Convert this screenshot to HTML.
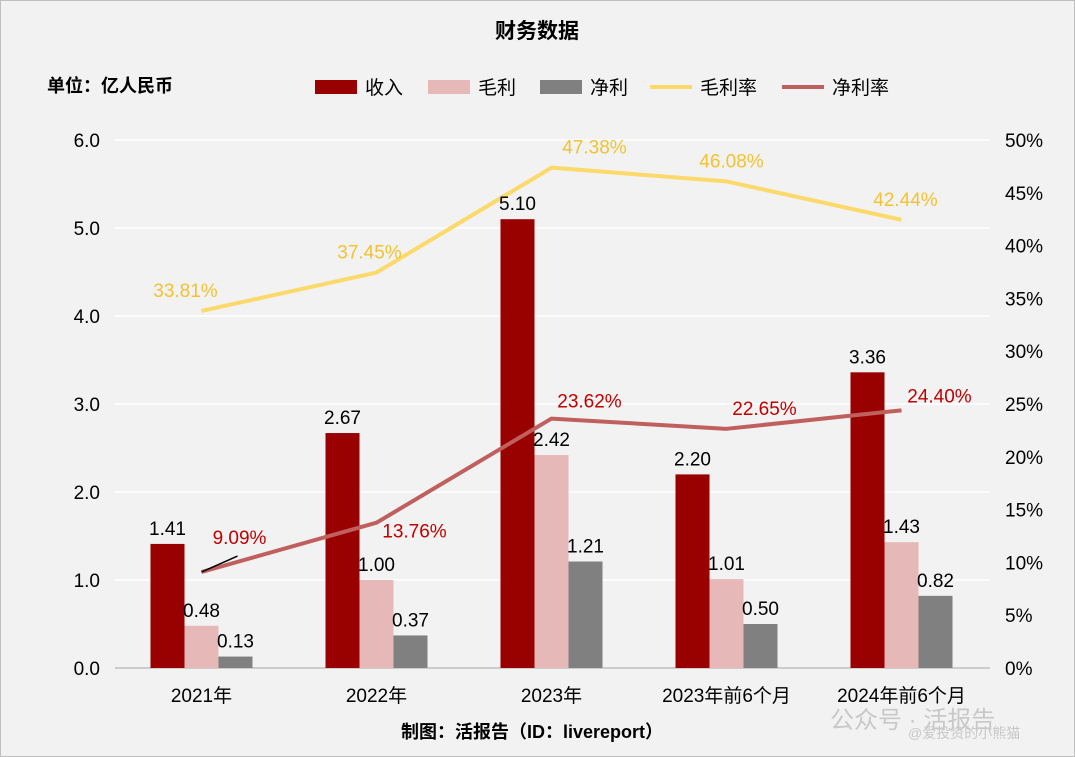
<!DOCTYPE html>
<html><head><meta charset="utf-8">
<style>
html,body{margin:0;padding:0;}
body{width:1075px;height:757px;background:#f2f2f2;font-family:"Liberation Sans","Noto Sans CJK SC",sans-serif;overflow:hidden;}
svg{display:block;}
</style></head>
<body>
<svg id="chart" width="1075" height="757" xmlns="http://www.w3.org/2000/svg">
<rect x="0.5" y="0.5" width="1074" height="756" fill="#f2f2f2" stroke="#bfbfbf"/>
<text x="537" y="38" text-anchor="middle" font-size="21" font-weight="bold" fill="#000" font-family="Liberation Sans,Noto Sans CJK SC,sans-serif">财务数据</text>
<text x="47" y="92" font-size="18" font-weight="bold" fill="#000" font-family="Liberation Sans,Noto Sans CJK SC,sans-serif">单位：亿人民币</text>
<g id="legend"></g>
<g id="grid"></g>
<g id="bars"></g>
<g id="lines"></g>
<g id="labels"></g>
<g id="axes"></g>
<text x="532" y="738" text-anchor="middle" font-size="18" font-weight="bold" fill="#000" font-family="Liberation Sans,Noto Sans CJK SC,sans-serif">制图：活报告（ID：livereport）</text>
<text x="830" y="728" font-size="24" fill="#c8c8c8" font-family="Liberation Sans,Noto Sans CJK SC,sans-serif">公众号 · 活报告</text>
<text x="908" y="738" font-size="14" fill="#c8c8c8" font-family="Liberation Sans,Noto Sans CJK SC,sans-serif">@爱投资的小熊猫</text>
</svg>
<script>
const categories=["2021年","2022年","2023年","2023年前6个月","2024年前6个月"];
const revenue=[1.41,2.67,5.10,2.20,3.36];
const grossProfit=[0.48,1.00,2.42,1.01,1.43];
const netProfit=[0.13,0.37,1.21,0.50,0.82];
const grossMargin=[33.81,37.45,47.38,46.08,42.44];
const netMargin=[9.09,13.76,23.62,22.65,24.40];
const leftTicks=[0,1,2,3,4,5,6];
const rightTicks=[0,5,10,15,20,25,30,35,40,45,50];

const NS="http://www.w3.org/2000/svg";
const FONT="Liberation Sans,Noto Sans CJK SC,sans-serif";
const x0=115,x1=990,yTop=140,yBot=668;
const band=(x1-x0)/categories.length;
const xC=i=>x0+band*(i+0.5)-1;
const yL=v=>yBot-(v/6)*(yBot-yTop);
const yR=v=>yBot-(v/50)*(yBot-yTop);
function mk(tag,attrs,parent){const e=document.createElementNS(NS,tag);for(const k in attrs)e.setAttribute(k,attrs[k]);parent.appendChild(e);return e;}
function txt(x,y,s,attrs,parent){const e=mk("text",Object.assign({x:x,y:y,"font-family":FONT},attrs),parent);e.textContent=s;return e;}
const grid=document.getElementById("grid"),bars=document.getElementById("bars"),lines=document.getElementById("lines"),labels=document.getElementById("labels"),axes=document.getElementById("axes"),legend=document.getElementById("legend");

leftTicks.forEach(t=>{
  const l=mk("line",{x1:x0,x2:x1,y1:yL(t),y2:yL(t),stroke:t===0?"#bfbfbf":"#ffffff","stroke-width":1.5},grid);
  
  
  const e=txt(100,yL(t)+7,t.toFixed(1),{"text-anchor":"end","font-size":19,fill:"#000"},axes);
  
  
});
rightTicks.forEach(t=>{
  const e=txt(1005,yR(t)+7,t+"%",{"font-size":19,fill:"#000"},axes);
  
  
});
categories.forEach((c,i)=>{
  const e=txt(xC(i),702,c,{"text-anchor":"middle","font-size":19,fill:"#000"},axes);
  
  
});
const bw=34;
const series=[[revenue,"#990000",-1.5,"revenue-bar"],[grossProfit,"#e6b9b8",-0.5,"gross-profit-bar"],[netProfit,"#808080",0.5,"net-profit-bar"]];
series.forEach(([arr,col,off,name])=>{
  arr.forEach((v,i)=>{
    const x=xC(i)+off*bw;
    const r=mk("rect",{x:x,y:yL(v),width:bw,height:yBot-yL(v),fill:col},bars);
    
    
    const t=txt(x+bw/2,yL(v)-9,v.toFixed(2),{"text-anchor":"middle","font-size":19,fill:"#000"},labels);
    
    
  });
});
function drawLine(arr,col,name){
  const p=mk("polyline",{points:arr.map((v,i)=>xC(i)+","+yR(v)).join(" "),fill:"none",stroke:col,"stroke-width":4,"stroke-linejoin":"round"},lines);
  
  
}
drawLine(grossMargin,"#fbd96a","gross-margin-line");
drawLine(netMargin,"#c0605e","net-margin-line");
const gmDx=[-16,-7,43,5,4];
grossMargin.forEach((v,i)=>{
  const t=txt(xC(i)+gmDx[i],yR(v)-14,v.toFixed(2)+"%",{"text-anchor":"middle","font-size":19,fill:"#f2c230"},labels);
  
  
});
const nmDy=[-28,15,-11,-14,-8];
netMargin.forEach((v,i)=>{
  const t=txt(xC(i)+38,yR(v)+nmDy[i],v.toFixed(2)+"%",{"text-anchor":"middle","font-size":19,fill:"#c00000"},labels);
  
  
});
const lead=mk("line",{x1:xC(0),y1:yR(netMargin[0]),x2:xC(0)+36,y2:yR(netMargin[0])-16,stroke:"#000","stroke-width":1.5},labels);



const legItems=[["收入","#990000","box",315],["毛利","#e6b9b8","box",428],["净利","#808080","box",540],["毛利率","#fbd96a","line",650],["净利率","#c0605e","line",782]];
legItems.forEach(([n,c,type,x])=>{
  let m;
  if(type==="box") m=mk("rect",{x:x,y:80,width:42,height:14,fill:c},legend);
  else m=mk("line",{x1:x,x2:x+42,y1:87,y2:87,stroke:c,"stroke-width":4},legend);
  
  
  const t=txt(x+50,94,n,{"font-size":19,fill:"#000"},legend);
  
  
});
</script>
</body></html>
